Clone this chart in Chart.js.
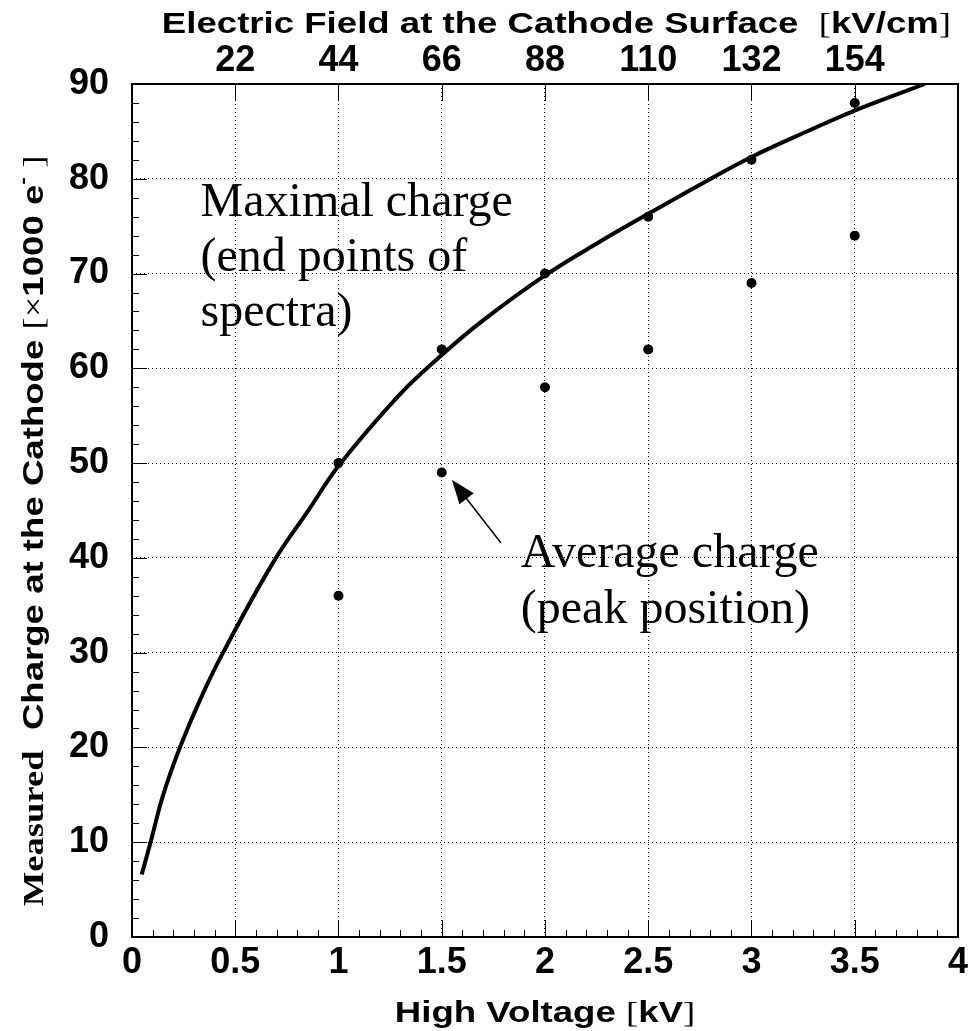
<!DOCTYPE html>
<html>
<head>
<meta charset="utf-8">
<script src="https://cdn.jsdelivr.net/npm/chart.js@4.4.0/dist/chart.umd.min.js"></script>
<style>
  body { margin: 0; background: #fff; }
  #grafico { display: block; }
</style>
</head>
<body>
<canvas id="grafico" width="972" height="1031"></canvas>
<script>
// pontos medidos (kV, x1000 e-)
const voltages = [1.0, 1.5, 2.0, 2.5, 3.0, 3.5];
const maxCharge = [50, 62, 70, 76, 82, 88];
const avgCharge = [36, 49, 58, 62, 69, 74];

// curva ajustada
const curveVoltage = [0.047, 0.09, 0.151, 0.232, 0.329, 0.441, 0.683, 0.86, 1.0, 1.295, 1.5, 1.697, 2.0, 2.261, 2.5, 2.744, 3.0, 3.29, 3.5, 3.839];
const curveCharge = [6.6, 10.0, 15.0, 20.0, 25.0, 30.0, 39.5, 45.2, 49.7, 57.2, 61.4, 65.0, 69.8, 73.3, 76.3, 79.3, 82.3, 85.2, 87.2, 90.0];

// rotulos dos eixos
const voltTicks = [0, 0.5, 1, 1.5, 2, 2.5, 3, 3.5, 4];
const chargeTicks = [0, 10, 20, 30, 40, 50, 60, 70, 80, 90];
const fieldTicks = [22, 44, 66, 88, 110, 132, 154];
const fieldPerKV = 44; // kV/cm por kV

const sans = "'Liberation Sans', Arial, sans-serif";
const serif = "'Liberation Serif', 'Times New Roman', serif";
const tickFont = { family: sans, size: 36, weight: 'bold' };
const stretch = 1.22; // os titulos sao mais largos que a fonte normal

const toPoints = (xs, ys) => xs.map((x, i) => ({ x: x, y: ys[i] }));

// desenha uma sequencia de pedacos de texto com fontes diferentes
function larguraPartes(ctx, partes) {
    let w = 0;
    for (const p of partes) {
        ctx.font = p[1];
        w += ctx.measureText(p[0]).width;
    }
    return w;
}
function desenhaPartes(ctx, partes, x, y) {
    let cx = x;
    for (const p of partes) {
        ctx.font = p[1];
        ctx.fillText(p[0], cx, y - (p[2] || 0));
        cx += ctx.measureText(p[0]).width;
    }
}
// titulo esticado na horizontal; (x, y) = ponto de ancoragem, align = 0 esquerda, 0.5 centro, 1 direita
function desenhaTitulo(ctx, partes, x, y, align, rot) {
    ctx.save();
    ctx.translate(x, y);
    if (rot) ctx.rotate(rot);
    ctx.scale(stretch, 1);
    desenhaPartes(ctx, partes, -larguraPartes(ctx, partes) * align, 0);
    ctx.restore();
}

const molduraPlugin = {
    id: 'moldura',
    afterDraw(chart) {
        const ctx = chart.ctx;
        const { left, right, top, bottom } = chart.chartArea;
        const xs = chart.scales.x, ys = chart.scales.y, x2 = chart.scales.x2;
        ctx.save();
        ctx.strokeStyle = '#000';
        ctx.fillStyle = '#000';
        ctx.lineWidth = 1;
        ctx.beginPath();
        // ticks do eixo x (a cada 0.1 kV)
        for (let i = 0; i <= 40; i++) {
            const px = Math.round(xs.getPixelForValue(i / 10)) + 0.5;
            const len = i % 5 === 0 ? 17 : 7;
            ctx.moveTo(px, bottom);
            ctx.lineTo(px, bottom - len);
        }
        // ticks do eixo de cima
        for (const f of fieldTicks) {
            const px = Math.round(x2.getPixelForValue(f)) + 0.5;
            ctx.moveTo(px, top);
            ctx.lineTo(px, top + 17);
        }
        // ticks do eixo y (a cada 2)
        for (let i = 0; i <= 45; i++) {
            const py = Math.round(ys.getPixelForValue(i * 2)) + 0.5;
            const len = i % 5 === 0 ? 15 : 7;
            ctx.moveTo(left, py);
            ctx.lineTo(left + len, py);
        }
        ctx.stroke();

        ctx.lineWidth = 2;
        ctx.strokeRect(left, top, right - left, bottom - top);

        // anotacoes
        ctx.font = '48px ' + serif;
        ctx.textBaseline = 'alphabetic';
        ctx.textAlign = 'left';
        const mx = xs.getPixelForValue(0.332), my = ys.getPixelForValue(76.1);
        ['Maximal charge', '(end points of', 'spectra)'].forEach((t, i) => ctx.fillText(t, mx, my + i * 55));
        const ax = xs.getPixelForValue(1.883), ay = ys.getPixelForValue(39.05);
        ['Average charge', '(peak position)'].forEach((t, i) => ctx.fillText(t, ax, ay + i * 56));

        // seta
        const x0 = xs.getPixelForValue(1.786), y0 = ys.getPixelForValue(41.6);
        const x1 = xs.getPixelForValue(1.549), y1 = ys.getPixelForValue(48.25);
        const ang = Math.atan2(y1 - y0, x1 - x0);
        ctx.lineWidth = 1.5;
        ctx.beginPath();
        ctx.moveTo(x0, y0);
        ctx.lineTo(x1 - 20 * Math.cos(ang), y1 - 20 * Math.sin(ang));
        ctx.stroke();
        ctx.beginPath();
        ctx.moveTo(x1, y1);
        ctx.lineTo(x1 - 24 * Math.cos(ang) + 9 * Math.sin(ang), y1 - 24 * Math.sin(ang) - 9 * Math.cos(ang));
        ctx.lineTo(x1 - 24 * Math.cos(ang) - 9 * Math.sin(ang), y1 - 24 * Math.sin(ang) + 9 * Math.cos(ang));
        ctx.closePath();
        ctx.fill();

        // titulos dos eixos
        const bs = 'bold 30px ' + sans, rs = '30px ' + serif;
        const tituloTopo = [['Electric Field at the Cathode Surface  ', bs], ['[', rs], ['kV/cm', bs], [']', rs]];
        desenhaTitulo(ctx, tituloTopo, 951, 33, 1);

        const tituloX = [['High Voltage ', bs], ['[', rs], ['kV', bs], [']', rs]];
        desenhaTitulo(ctx, tituloX, (left + right) / 2, 1022, 0.5);

        const tituloY = [['Measured', 'bold 30px ' + serif], ['  Charge at the Cathode ', bs], ['[', rs], ['\u00d7', rs],
            ['1000 e', bs], ['-', 'bold 19px ' + sans, 14], [' ]', rs]];
        desenhaTitulo(ctx, tituloY, 43, 531, 0.5, -Math.PI / 2);
        ctx.restore();
    }
};

const dotted = { color: '#000', lineWidth: 1, drawTicks: false };

const ctx = document.getElementById('grafico').getContext('2d');
const myChart = new Chart(ctx, {
    type: 'scatter',
    data: {
        datasets: [
            {
                label: 'Maximal charge',
                data: toPoints(voltages, maxCharge),
                pointRadius: 5,
                backgroundColor: '#000',
                borderWidth: 0
            },
            {
                label: 'Average charge',
                data: toPoints(voltages, avgCharge),
                pointRadius: 5,
                backgroundColor: '#000',
                borderWidth: 0
            },
            {
                label: 'Fit',
                data: toPoints(curveVoltage, curveCharge),
                showLine: true,
                pointRadius: 0,
                borderColor: '#000',
                borderWidth: 4,
                tension: 0.4,
                fill: false
            }
        ]
    },
    options: {
        responsive: false,
        animation: false,
        layout: { padding: { left: 0, right: 11, top: 0, bottom: 0 } },
        plugins: { legend: { display: false }, tooltip: { enabled: false } },
        scales: {
            x: {
                type: 'linear',
                position: 'bottom',
                min: 0,
                max: 4,
                afterFit: (s) => { s.height = 94; },
                afterBuildTicks: (s) => { s.ticks = voltTicks.map(v => ({ value: v })); },
                ticks: {
                    color: '#000',
                    font: tickFont,
                    padding: 4,
                    maxRotation: 0,
                    autoSkip: false,
                    callback: (v) => String(v)
                },
                grid: dotted,
                border: { display: false, dash: [1, 3] }
            },
            x2: {
                type: 'linear',
                position: 'top',
                min: 0,
                max: 4 * fieldPerKV,
                afterFit: (s) => { s.height = 84; },
                afterBuildTicks: (s) => { s.ticks = fieldTicks.map(v => ({ value: v })); },
                ticks: {
                    color: '#000',
                    font: tickFont,
                    padding: 1,
                    maxRotation: 0,
                    autoSkip: false,
                    callback: (v) => String(v)
                },
                grid: { display: false, drawTicks: false },
                border: { display: false }
            },
            y: {
                type: 'linear',
                min: 0,
                max: 90,
                afterFit: (s) => { s.width = 132; },
                afterBuildTicks: (s) => { s.ticks = chargeTicks.map(v => ({ value: v })); },
                ticks: {
                    color: '#000',
                    font: tickFont,
                    padding: 23,
                    autoSkip: false,
                    callback: (v) => String(v)
                },
                grid: dotted,
                border: { display: false, dash: [1, 3] }
            }
        }
    },
    plugins: [molduraPlugin]
});
</script>
</body>
</html>
